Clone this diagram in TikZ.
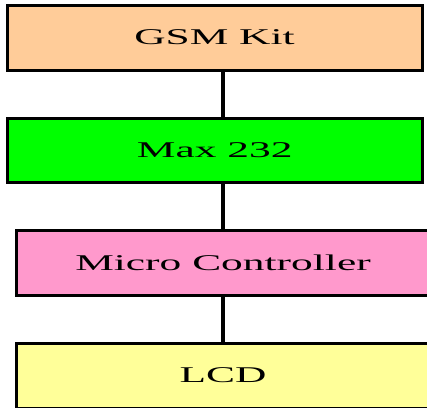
\documentclass[tikz,border=0pt]{standalone}
\usepackage{fontspec}
\setmainfont{Liberation Serif}
\usepackage{graphicx}
\definecolor{peach}{HTML}{FFCC99}
\definecolor{brightgreen}{HTML}{00FF00}
\definecolor{pinkbox}{HTML}{FF99CC}
\definecolor{lightyellow}{HTML}{FFFF99}
\tikzset{
  blockbox/.style={draw=black, line width=3pt, rectangle, inner sep=0pt,
    minimum height=65pt, font=\fontsize{22.5}{26}\selectfont},
  link/.style={draw=black, line width=4pt}
}
\newcommand{\wide}[1]{\scalebox{1.93}[1]{#1}}
\begin{document}
\begin{tikzpicture}[x=1pt,y=1pt]
\useasboundingbox (0,0) rectangle (427,-407);
\node[blockbox, fill=peach, minimum width=415pt] (gsm) at (214.5,-37.5) {\wide{GSM Kit}};
\node[blockbox, fill=brightgreen, minimum width=414.5pt, minimum height=64pt] (max) at (214.75,-150) {\wide{Max 232}};
\node[blockbox, fill=pinkbox, minimum width=414pt] (mc) at (223,-262.5) {\wide{Micro Controller}};
\node[blockbox, fill=lightyellow, minimum width=414pt] (lcd) at (223,-375.5) {\wide{LCD}};
\draw[link] (gsm.south -| mc.center) -- (max.north -| mc.center);
\draw[link] (max.south -| mc.center) -- (mc.north);
\draw[link] (mc.south) -- (lcd.north);
\end{tikzpicture}
\end{document}
